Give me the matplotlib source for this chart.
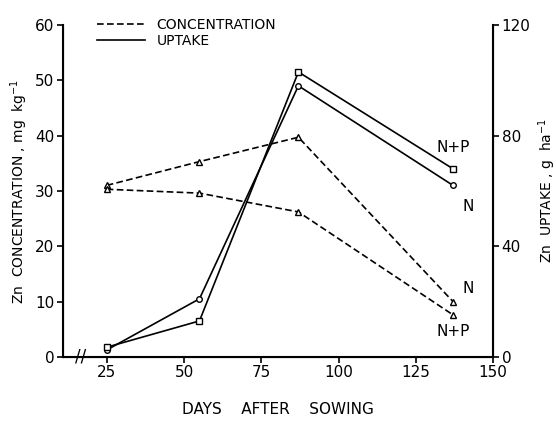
import matplotlib
matplotlib.use("Agg")
import matplotlib.pyplot as plt

days = [25, 55, 87, 137]
conc_N = [31, 35.3, 39.7, 10]
conc_NP = [30.3, 29.6, 26.2, 7.6]
upt_N = [2.5, 21, 98, 62]
upt_NP = [3.5, 13, 103, 68]
xticks = [25, 50, 75, 100, 125, 150]
lticks = [0, 10, 20, 30, 40, 50, 60]
rticks = [0, 40, 80, 120]

plt.rcParams['font.family'] = ['DejaVu Sans']
fig = plt.figure(figsize=(5.56, 4.30), dpi=100)
ax = fig.add_axes([0.113, 0.170, 0.774, 0.772])
ax2 = ax.twinx()

ax.plot(days, conc_N, ls=(0, (4, 2)), color='black', lw=1.2, marker='^', mfc='white', ms=5)
ax.plot(days, conc_NP, ls=(0, (4, 2)), color='black', lw=1.2, marker='^', mfc='white', ms=5)
ax2.plot(days, upt_N, ls='-', color='black', lw=1.2, marker='o', mfc='white', ms=4)
ax2.plot(days, upt_NP, ls='-', color='black', lw=1.2, marker='s', mfc='white', ms=4)

ax.set_xlim(10.8, 150)
ax.set_ylim(0, 60)
ax2.set_ylim(0, 120)
ax.set_xticks(xticks)
ax.set_yticks(lticks)
ax2.set_yticks(rticks)
for a in (ax, ax2):
    a.spines['top'].set_visible(False)
    a.tick_params(labelsize=11, width=1.2, length=4, pad=2)
ax.spines['left'].set_linewidth(1.5)
ax.spines['bottom'].set_linewidth(1.5)
ax2.spines['right'].set_linewidth(1.5)

ax.set_ylabel('Zn  CONCENTRATION , mg  kg$^{-1}$', fontsize=10, labelpad=4)
ax2.set_ylabel('Zn  UPTAKE , g  ha$^{-1}$', fontsize=10, rotation=90, labelpad=4)
ax.set_xlabel('DAYS    AFTER    SOWING', fontsize=11, labelpad=16)

# axis break marks
ax.text(16.5, 0, '//', fontsize=12, ha='center', va='center', rotation=0)

# annotations
ax2.text(137, 73, 'N+P', fontsize=11, ha='center', va='bottom')
ax2.text(140, 57, 'N', fontsize=11, ha='left', va='top')
ax.text(140, 11, 'N', fontsize=11, ha='left', va='bottom')
ax.text(137, 6, 'N+P', fontsize=11, ha='center', va='top')

# legend
ax.plot([], [], ls=(0, (4, 2)), color='black', lw=1.2, label='CONCENTRATION')
ax.plot([], [], ls='-', color='black', lw=1.2, label='UPTAKE')
h, l = ax.get_legend_handles_labels()
ax.legend(h[-2:], l[-2:], loc='upper left', bbox_to_anchor=(0.05, 1.06), frameon=False,
          fontsize=10, handlelength=3.5, labelspacing=0.2)

fig.savefig('out.png', dpi=100)
